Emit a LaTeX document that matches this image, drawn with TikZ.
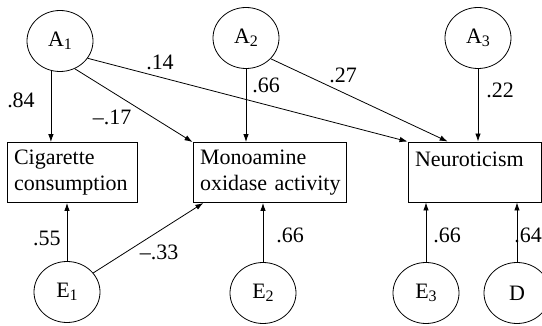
\documentclass[tikz,border=0pt]{standalone}
\usepackage{fontspec}
\setmainfont{Liberation Serif}
\newfontfamily\labelfont{Liberation Serif}
\usetikzlibrary{shapes.geometric,arrows.meta,calc}
\begin{document}
\begin{tikzpicture}[x=1pt,y=-1pt,
  font=\labelfont\fontsize{22}{25.5}\selectfont,
  latent/.style={draw, line width=0.8pt, ellipse, minimum width=66pt, minimum height=61pt, inner sep=0pt},
  observed/.style={draw, line width=0.9pt, rectangle, inner xsep=7pt, inner ysep=0pt, align=left, minimum height=60pt},
  path/.style={line width=0.8pt, -{Latex[length=8pt,width=5.5pt]}},
  coef/.style={inner sep=0pt}]
\useasboundingbox (0,0) rectangle (542,326);
\clip (0,0) rectangle (542,326);

% observed variables
\node[observed, text width=116pt] (cig) at (72,172.5) {\mbox{Cigarette}\\\mbox{consumption}};
\node[observed, text width=139pt] (mao) at (269.5,172.5) {\mbox{Monoamine}\\\mbox{oxidase activity}};
\node[observed, text width=119pt] (neu) at (474.5,172) {\mbox{Neuroticism}\\\mbox{}};

% latent factors
\node[latent] (A1) at (60,41) {A\raisebox{-0.3ex}{\fontsize{16}{16}\selectfont 1}};
\node[latent] (A2) at (246,38) {A\raisebox{-0.3ex}{\fontsize{16}{16}\selectfont 2}};
\node[latent] (A3) at (478,38) {A\raisebox{-0.3ex}{\fontsize{16}{16}\selectfont 3}};
\node[latent] (E1) at (67,292) {E\raisebox{-0.3ex}{\fontsize{16}{16}\selectfont 1}};
\node[latent] (E2) at (263,293) {E\raisebox{-0.3ex}{\fontsize{16}{16}\selectfont 2}};
\node[latent] (E3) at (426,293) {E\raisebox{-0.3ex}{\fontsize{16}{16}\selectfont 3}};
\node[latent] (D)  at (517,293) {D};

% paths from the genetic factors
\draw[path] (A1.253) -- (A1.253 |- cig.north);
\draw[path] (A1.-62) -- (mao.north west);
\draw[path] (A1.-32) -- (neu.north west);
\draw[path] (A2.south) -- (A2.south |- mao.north);
\draw[path] (A2.-40) -- ($(neu.north west)!0.3!(neu.north east)$);
\draw[path] (A3.south) -- (A3.south |- neu.north);

% paths from the environmental factors
\draw[path] (E1.north) -- (E1.north |- cig.south);
\draw[path] (E1.36) -- ($(mao.south west)!0.07!(mao.south east)$);
\draw[path] (E2.north) -- (E2.north |- mao.south);
\draw[path] (E3.north) -- (E3.north |- neu.south);
\draw[path] (D.north) -- (D.north |- neu.south);

% path coefficients
\node[coef] (c1) at (21,100) {.84};
\node[coef] (c2) at (112,117) {–.17};
\node[coef] (c3) at (160,62) {.14};
\node[coef] (c4) at (266,85) {.66};
\node[coef] (c5) at (343,75) {.27};
\node[coef] (c6) at (500,90) {.22};
\node[coef] (c7) at (47,238) {.55};
\node[coef] (c8) at (159,252) {–.33};
\node[coef] (c9) at (290,235) {.66};
\node[coef] (c10) at (447,235) {.66};
\node[coef] (c11) at (528,235) {.64};
\end{tikzpicture}
\end{document}
